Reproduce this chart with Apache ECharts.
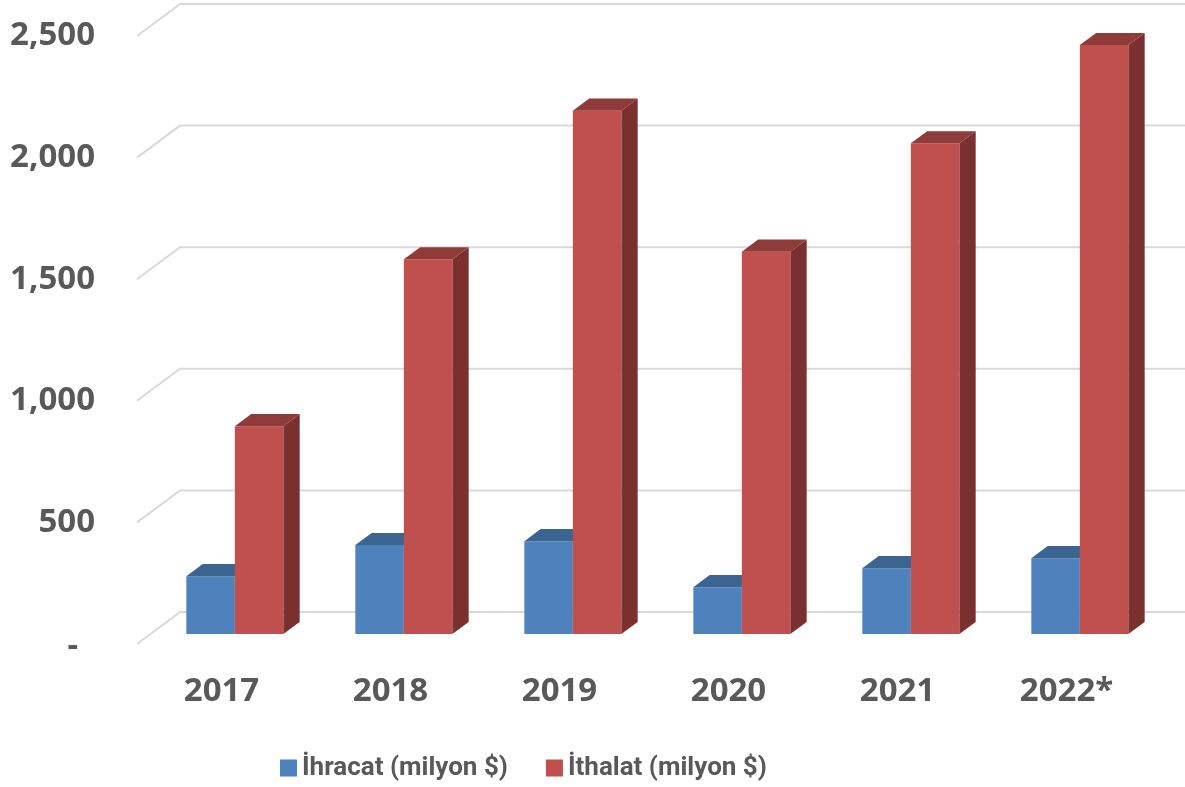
<!DOCTYPE html>
<html><head><meta charset="utf-8">
<script src="https://cdn.jsdelivr.net/npm/echarts@6/dist/echarts.min.js"></script>
<style>html,body{margin:0;padding:0;background:#fff}#c{width:1185px;height:787px}</style>
</head><body><div id="c"></div>
<script>
const categories = ['2017', '2018', '2019', '2020', '2021', '2022*'];
const ihracat = [238, 366, 382, 193, 271, 312];
const ithalat = [855, 1541, 2152, 1572, 2018, 2422];
const yTicks = [0, 500, 1000, 1500, 2000, 2500];
const seriesNames = ['İhracat (milyon $)', 'İthalat (milyon $)'];

const DEPTH = [43, -32];
const TXT = '#595959';
const NUMFONT = '"Open Sans", sans-serif';
const LEGFONT = '"Roboto", sans-serif';

const chart = echarts.init(document.getElementById('c'), null, { renderer: 'canvas' });

function wallItem(params, api) {
  const cs = params.coordSys;
  const p = api.coord([0, api.value(1)]);
  const y = p[1];
  const x0 = cs.x;
  return {
    type: 'polyline',
    shape: { points: [[x0, y], [x0 + DEPTH[0], y + DEPTH[1]], [cs.x + cs.width + DEPTH[0] + 20, y + DEPTH[1]]] },
    style: { stroke: '#D9D9D9', lineWidth: 2, fill: null },
    silent: true
  };
}

function barRenderer(slot, colors) {
  return function (params, api) {
    const i = api.value(0), v = api.value(1);
    const base = api.coord([i, 0]);
    const top = api.coord([i, v]);
    const band = api.size([1, 0])[0];
    const bw = band * 0.287;
    const f = 0.31, d = 0.38;
    const ox = DEPTH[0] * f, oy = DEPTH[1] * f;
    const dx = DEPTH[0] * d, dy = DEPTH[1] * d;
    const xl = base[0] + ox + (slot === 0 ? -bw : 0);
    const xr = xl + bw;
    const yb = base[1] + oy, yt = top[1] + oy;
    return {
      type: 'group',
      children: [
        { type: 'polygon', shape: { points: [[xr, yb], [xr + dx, yb + dy], [xr + dx, yt + dy], [xr, yt]] }, style: { fill: colors[2] } },
        { type: 'rect', shape: { x: xl, y: yt, width: bw, height: yb - yt }, style: { fill: colors[0] } },
        { type: 'polygon', shape: { points: [[xl, yt], [xl + dx, yt + dy], [xr + dx, yt + dy], [xr, yt]] }, style: { fill: colors[1] } }
      ]
    };
  };
}

const blue = ['#4F81BD', '#3C6491', '#2F4F75'];
const red = ['#C0504D', '#8E3B39', '#7A302F'];

chart.setOption({
  animation: false,
  backgroundColor: '#fff',
  grid: { left: 137, right: 34, top: 36, bottom: 143, containLabel: false, outerBoundsMode: 'none' },
  legend: {
    data: seriesNames,
    left: 275, top: 750,
    icon: 'rect', itemWidth: 17, itemHeight: 17, itemGap: 38,
    textStyle: { fontFamily: LEGFONT, fontSize: 26, fontWeight: 'bold', color: TXT }
  },
  xAxis: {
    type: 'category', data: categories,
    axisLine: { show: false }, axisTick: { show: false }, splitLine: { show: false },
    axisLabel: { fontFamily: NUMFONT, fontSize: 33, fontWeight: 'bold', color: TXT, margin: 31, lineHeight: 34 }
  },
  yAxis: {
    type: 'value', min: 0, max: 2500, interval: 500,
    axisLine: { show: false }, axisTick: { show: false }, splitLine: { show: false },
    axisLabel: {
      fontFamily: NUMFONT, fontSize: 33, fontWeight: 'bold', color: TXT, margin: 42,
      formatter: function (v) { return v === 0 ? '{dash|-}' : v.toLocaleString('en-US'); },
      rich: { dash: { fontFamily: NUMFONT, fontSize: 33, fontWeight: 'bold', color: TXT, padding: [6, 17, 0, 0] } }
    }
  },
  series: [
    {
      type: 'custom', name: '_walls', z: 1, silent: true,
      data: yTicks.map(function (v) { return [0, v]; }),
      renderItem: wallItem
    },
    {
      type: 'custom', name: seriesNames[0], z: 2,
      itemStyle: { color: blue[0] },
      data: ihracat.map(function (v, i) { return [i, v]; }),
      encode: { x: 0, y: 1 },
      renderItem: barRenderer(0, blue)
    },
    {
      type: 'custom', name: seriesNames[1], z: 3,
      itemStyle: { color: red[0] },
      data: ithalat.map(function (v, i) { return [i, v]; }),
      encode: { x: 0, y: 1 },
      renderItem: barRenderer(1, red)
    }
  ]
});
</script>
</body></html>
